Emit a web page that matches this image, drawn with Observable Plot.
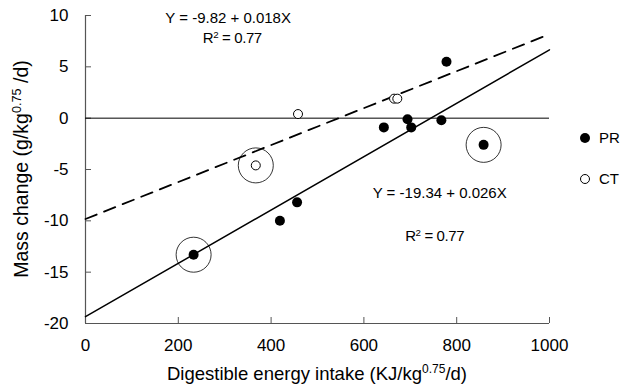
<!DOCTYPE html>
<html>
<head>
<meta charset="utf-8">
<script src="https://cdn.jsdelivr.net/npm/d3@7"></script>
<script src="https://cdn.jsdelivr.net/npm/@observablehq/plot@0.6"></script>
<style>
  html, body { margin: 0; padding: 0; background: #fff; }
  #chart svg { display: block; }
</style>
</head>
<body>
<div id="chart"></div>
<script>
// ---- data ----
const prX = [233, 419, 456, 643, 694, 702, 767, 778, 858];
const prY = [-13.3, -10.0, -8.2, -0.9, -0.1, -0.9, -0.2, 5.5, -2.6];
const prRinged = [true, false, false, false, false, false, false, false, true];

const ctX = [367, 458, 665, 672];
const ctY = [-4.6, 0.4, 1.9, 1.9];
const ctRinged = [true, false, false, false];

const fitSeries = ["PR", "CT"];
const fitIntercept = [-19.34, -9.82];
const fitSlope = [0.026, 0.018];
const fitRange = [0, 1000];
const fitLabels = ["Y = -19.34 + 0.026X", "Y = -9.82 + 0.018X"];
const fitR2 = ["0.77", "0.77"];

const xTicks = [0, 200, 400, 600, 800, 1000];
const yTicks = [-20, -15, -10, -5, 0, 5, 10];

// ---- tables ----
const pr = prX.map((x, i) => ({x, y: prY[i], ringed: prRinged[i]}));
const ct = ctX.map((x, i) => ({x, y: ctY[i], ringed: ctRinged[i]}));
const fits = fitSeries.flatMap((s, i) => fitRange.map(x => ({series: s, x, y: fitIntercept[i] + fitSlope[i] * x})));
const rings = [...pr, ...ct].filter(d => d.ringed);

const axisColor = "#555";
const font = "'Liberation Sans', Arial, sans-serif";

const chart = Plot.plot({
  width: 623,
  height: 386,
  marginLeft: 85,
  marginRight: 74,
  marginTop: 15,
  marginBottom: 63,
  x: {domain: [0, 1000]},
  y: {domain: [-20, 10]},
  style: {fontFamily: font, fontSize: "17px", color: "#000", background: "#fff"},
  marks: [
    Plot.axisX({ticks: xTicks, tickSize: 6, dy: -6, tickPadding: 15, tickFormat: d => String(d), label: null, stroke: axisColor, fill: "#000", fontSize: 17}),
    Plot.axisY({ticks: yTicks, tickSize: 6, dx: 6, tickPadding: 17, tickFormat: d => String(d), label: null, stroke: axisColor, fill: "#000", fontSize: 17}),
    Plot.ruleX([0], {stroke: axisColor, strokeWidth: 1.2}),
    Plot.ruleY([-20], {stroke: axisColor, strokeWidth: 1.2}),
    Plot.ruleY([0], {x1: fitRange[0], x2: fitRange[1], stroke: "#000", strokeWidth: 1}),
    Plot.line(fits.filter(d => d.series === "PR"), {x: "x", y: "y", stroke: "#000", strokeWidth: 1.5}),
    Plot.line(fits.filter(d => d.series === "CT"), {x: "x", y: "y", stroke: "#000", strokeWidth: 1.8, strokeDasharray: "12,8"}),
    Plot.dot(rings, {x: "x", y: "y", r: 17.5, stroke: "#000", strokeWidth: 0.8, fill: "none"}),
    Plot.dot(pr, {x: "x", y: "y", r: 5, fill: "#000", stroke: "none"}),
    Plot.dot(ct, {x: "x", y: "y", r: 4.5, fill: "#fff", stroke: "#000", strokeWidth: 1}),
    Plot.text([fitLabels[1]], {x: 172, y: 9.7, text: d => d, textAnchor: "start", fontSize: 15, fill: "#000", letterSpacing: "-0.4px"}),
    Plot.text([fitLabels[0]], {x: 619, y: -7.33, text: d => d, textAnchor: "start", fontSize: 15, fill: "#000", letterSpacing: "-0.4px"})
  ]
});

document.getElementById("chart").appendChild(chart);

// ---- extra text with superscripts (axis titles, R², legend) ----
const svg = d3.select(chart);
const xs = chart.scale("x"), ys = chart.scale("y");

function supText(g, parts) {
  parts.forEach(([t, sup]) => {
    const ts = g.append("tspan").text(t);
    if (sup) ts.attr("baseline-shift", "super").attr("font-size", "0.65em");
  });
}

// x-axis title
const xt = svg.append("text")
  .attr("x", (xs.apply(0) + xs.apply(1000)) / 2)
  .attr("y", 380)
  .attr("text-anchor", "middle")
  .attr("font-family", font).attr("font-size", 18.5).attr("fill", "#000");
supText(xt, [["Digestible energy intake (KJ/kg"], ["0.75", true], ["/d)"]]);

// y-axis title
const yt = svg.append("text")
  .attr("transform", `translate(21,${(ys.apply(-20) + ys.apply(10)) / 2}) rotate(-90)`)
  .attr("dy", "0.35em")
  .attr("text-anchor", "middle")
  .attr("font-family", font).attr("font-size", 19.5).attr("fill", "#000");
supText(yt, [["Mass change (g/kg"], ["0.75", true], [" /d)"]]);

// R² labels
[[fitR2[1], 254, 7.7], [fitR2[0], 690, -11.5]].forEach(([v, x, y]) => {
  const t = svg.append("text")
    .attr("x", xs.apply(x)).attr("y", ys.apply(y)).attr("dy", "0.32em")
    .attr("text-anchor", "start")
    .attr("font-family", font).attr("font-size", 15).attr("letter-spacing", "-0.4px").attr("fill", "#000");
  supText(t, [["R"], ["2", true], [" = " + v]]);
});

// legend
const legend = [{label: "PR", fill: "#000", y: 138}, {label: "CT", fill: "#fff", y: 179}];
legend.forEach(d => {
  svg.append("circle").attr("cx", 585).attr("cy", d.y).attr("r", d.fill === "#000" ? 5 : 4.5)
    .attr("fill", d.fill).attr("stroke", "#000").attr("stroke-width", d.fill === "#000" ? 0 : 1);
  svg.append("text").attr("x", 599).attr("y", d.y).attr("dy", "0.35em")
    .attr("text-anchor", "start")
    .attr("font-family", font).attr("font-size", 15).attr("fill", "#000").text(d.label);
});
</script>
</body>
</html>
